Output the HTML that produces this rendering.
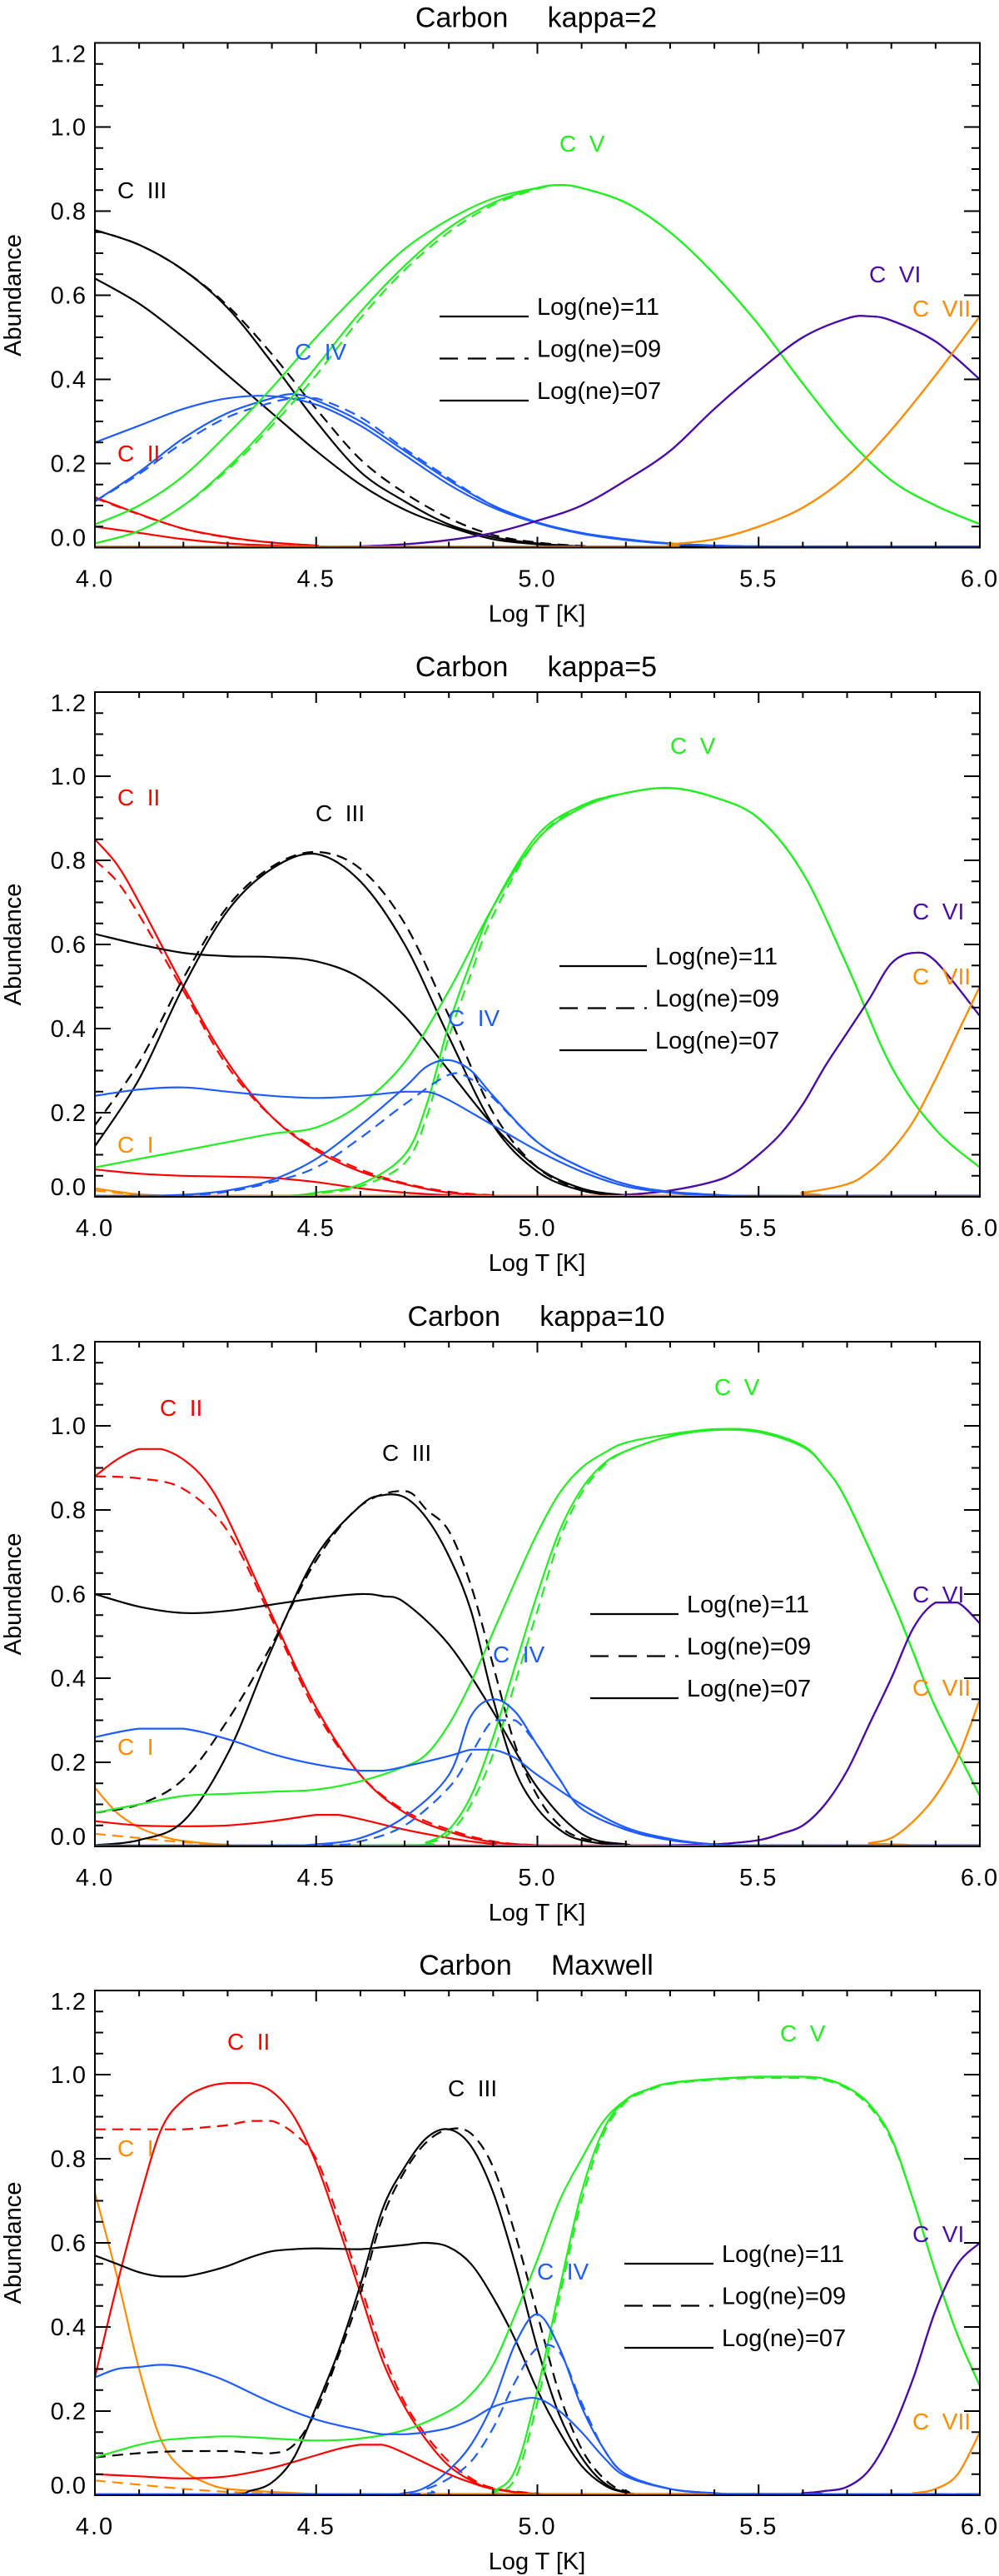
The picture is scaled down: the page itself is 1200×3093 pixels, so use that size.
<!DOCTYPE html>
<html><head><meta charset="utf-8"><style>
html,body{margin:0;padding:0;background:#fff;}
svg{display:block;}
text{font-family:"Liberation Sans",sans-serif;}
</style></head><body>
<svg id="fig" width="1200" height="3093" viewBox="0 0 1200 3093" xmlns="http://www.w3.org/2000/svg"></svg>
<script>
// ===== DATA (log T, abundance) =====
const xTickLabels = ["4.0","4.5","5.0","5.5","6.0"];
const yTickLabels = ["0.0","0.2","0.4","0.6","0.8","1.0","1.2"];
const legendLabels = ["Log(ne)=11","Log(ne)=09","Log(ne)=07"];
const panelTitles = ["Carbon     kappa=2","Carbon     kappa=5","Carbon     kappa=10","Carbon     Maxwell"];

// kappa=2
const k2_c2_11=[[4.0,.12],[4.1,.08],[4.2,.045],[4.3,.025],[4.4,.012],[4.5,.005],[4.6,0],[6.0,0]];
const k2_c2_09=[[4.0,.118],[4.1,.079],[4.2,.045],[4.3,.024],[4.4,.012],[4.5,.005],[4.6,0],[6.0,0]];
const k2_c2_07=[[4.0,.05],[4.1,.035],[4.2,.02],[4.3,.01],[4.4,.005],[4.5,.002],[4.6,0],[6.0,0]];
const k2_c3_11=[[4.0,.755],[4.1,.72],[4.2,.66],[4.3,.57],[4.4,.44],[4.5,.30],[4.6,.18],[4.7,.11],[4.8,.055],[4.9,.025],[5.0,.01],[5.1,.003],[5.2,0],[6.0,0]];
const k2_c3_09=[[4.0,.755],[4.1,.72],[4.2,.66],[4.3,.575],[4.4,.46],[4.5,.33],[4.6,.21],[4.7,.13],[4.8,.07],[4.9,.03],[5.0,.012],[5.1,.004],[5.2,0],[6.0,0]];
const k2_c3_07=[[4.0,.64],[4.1,.58],[4.2,.50],[4.3,.41],[4.4,.32],[4.5,.23],[4.6,.15],[4.7,.09],[4.8,.05],[4.9,.02],[5.0,.008],[5.1,.002],[5.2,0],[6.0,0]];
const k2_c4_11=[[4.0,.11],[4.1,.18],[4.2,.26],[4.3,.32],[4.4,.355],[4.45,.365],[4.5,.35],[4.6,.30],[4.7,.23],[4.8,.16],[4.9,.10],[5.0,.06],[5.1,.035],[5.2,.02],[5.3,.01],[5.4,.005],[5.5,.003],[5.7,0],[6.0,0]];
const k2_c4_09=[[4.0,.11],[4.1,.175],[4.2,.25],[4.3,.31],[4.4,.345],[4.45,.355],[4.5,.355],[4.6,.31],[4.7,.235],[4.8,.165],[4.9,.10],[5.0,.06],[5.1,.035],[5.2,.02],[5.3,.01],[5.4,.005],[5.5,.003],[5.7,0],[6.0,0]];
const k2_c4_07=[[4.0,.25],[4.1,.29],[4.2,.33],[4.3,.355],[4.4,.36],[4.5,.34],[4.6,.29],[4.7,.22],[4.8,.15],[4.9,.095],[5.0,.058],[5.1,.033],[5.2,.018],[5.3,.009],[5.4,.004],[5.5,.002],[5.7,0],[6.0,0]];
const k2_c5_11=[[4.0,.01],[4.1,.04],[4.2,.10],[4.3,.19],[4.4,.30],[4.5,.43],[4.6,.56],[4.7,.67],[4.8,.76],[4.9,.82],[5.0,.855],[5.05,.862],[5.1,.855],[5.2,.82],[5.3,.75],[5.4,.65],[5.5,.53],[5.6,.39],[5.7,.26],[5.8,.16],[5.9,.10],[6.0,.056]];
const k2_c5_09=[[4.0,.01],[4.1,.04],[4.2,.10],[4.3,.185],[4.4,.29],[4.5,.41],[4.6,.545],[4.7,.66],[4.8,.75],[4.9,.815],[5.0,.853],[5.05,.862],[5.1,.855],[5.2,.82],[5.3,.75],[5.4,.65],[5.5,.53],[5.6,.39],[5.7,.26],[5.8,.16],[5.9,.10],[6.0,.056]];
const k2_c5_07=[[4.0,.055],[4.1,.10],[4.2,.17],[4.3,.27],[4.4,.38],[4.5,.50],[4.6,.61],[4.7,.71],[4.8,.78],[4.9,.83],[5.0,.855],[5.05,.862],[5.1,.855],[5.2,.82],[5.3,.75],[5.4,.65],[5.5,.53],[5.6,.39],[5.7,.26],[5.8,.16],[5.9,.10],[6.0,.056]];
const k2_c6=[[4.0,0],[4.5,0],[4.6,.003],[4.7,.008],[4.8,.018],[4.9,.035],[5.0,.064],[5.1,.10],[5.2,.16],[5.3,.23],[5.4,.33],[5.5,.42],[5.6,.50],[5.7,.545],[5.75,.55],[5.8,.54],[5.9,.49],[6.0,.40]];
const k2_c7=[[4.0,0],[5.2,0],[5.3,.008],[5.4,.02],[5.5,.05],[5.6,.095],[5.7,.17],[5.8,.28],[5.9,.41],[6.0,.55]];

// kappa=5
const k5_c1_11=[[4.0,.02],[4.1,.006],[4.2,.001],[4.3,0],[6.0,0]];
const k5_c1_09=[[4.0,.015],[4.1,.005],[4.2,0],[6.0,0]];
const k5_c2_11=[[4.0,.85],[4.05,.79],[4.1,.70],[4.2,.50],[4.3,.32],[4.4,.19],[4.5,.11],[4.6,.06],[4.7,.03],[4.8,.01],[4.9,.003],[5.0,0],[6.0,0]];
const k5_c2_09=[[4.0,.80],[4.05,.75],[4.1,.67],[4.2,.49],[4.3,.31],[4.4,.19],[4.5,.115],[4.6,.065],[4.7,.032],[4.8,.012],[4.9,.004],[5.0,0],[6.0,0]];
const k5_c2_07=[[4.0,.065],[4.1,.055],[4.2,.05],[4.3,.048],[4.4,.045],[4.5,.035],[4.6,.02],[4.7,.01],[4.8,.004],[4.9,0],[6.0,0]];
const k5_c3_11=[[4.0,.12],[4.1,.28],[4.2,.50],[4.3,.68],[4.4,.78],[4.5,.815],[4.6,.75],[4.7,.60],[4.8,.38],[4.9,.17],[5.0,.06],[5.1,.015],[5.2,.003],[5.3,0],[6.0,0]];
const k5_c3_09=[[4.0,.17],[4.1,.32],[4.2,.52],[4.3,.69],[4.4,.785],[4.5,.82],[4.6,.78],[4.7,.65],[4.8,.43],[4.9,.20],[5.0,.07],[5.1,.018],[5.2,.004],[5.3,0],[6.0,0]];
const k5_c3_07=[[4.0,.625],[4.1,.60],[4.2,.58],[4.3,.572],[4.4,.57],[4.5,.56],[4.6,.52],[4.7,.43],[4.8,.30],[4.9,.17],[5.0,.07],[5.1,.02],[5.2,.004],[5.3,0],[6.0,0]];
const k5_c4_11=[[4.0,0],[4.1,.002],[4.2,.005],[4.3,.015],[4.4,.04],[4.5,.09],[4.6,.17],[4.7,.26],[4.75,.31],[4.8,.325],[4.85,.30],[4.9,.24],[5.0,.13],[5.1,.07],[5.2,.03],[5.3,.012],[5.4,.005],[5.5,.001],[6.0,0]];
const k5_c4_09=[[4.0,0],[4.2,.004],[4.3,.012],[4.4,.035],[4.5,.07],[4.6,.14],[4.7,.22],[4.8,.29],[4.85,.28],[4.9,.235],[5.0,.13],[5.1,.07],[5.2,.03],[5.3,.012],[5.4,.005],[5.5,.001],[6.0,0]];
const k5_c4_07=[[4.0,.24],[4.1,.255],[4.2,.26],[4.3,.25],[4.4,.24],[4.5,.235],[4.6,.24],[4.7,.25],[4.75,.25],[4.8,.23],[4.9,.17],[5.0,.11],[5.1,.06],[5.2,.025],[5.3,.01],[5.4,.004],[5.5,.001],[6.0,0]];
const k5_c5_11=[[4.0,0],[4.4,.002],[4.5,.01],[4.6,.03],[4.7,.10],[4.75,.22],[4.8,.41],[4.85,.56],[4.9,.69],[5.0,.86],[5.1,.93],[5.2,.96],[5.3,.972],[5.4,.95],[5.5,.90],[5.6,.77],[5.7,.55],[5.8,.31],[5.9,.16],[6.0,.07]];
const k5_c5_09=[[4.0,0],[4.4,.002],[4.5,.008],[4.6,.025],[4.7,.08],[4.75,.19],[4.8,.38],[4.85,.53],[4.9,.67],[5.0,.85],[5.1,.93],[5.2,.96],[5.3,.972],[5.4,.95],[5.5,.90],[5.6,.77],[5.7,.55],[5.8,.31],[5.9,.16],[6.0,.07]];
const k5_c5_07=[[4.0,.07],[4.1,.09],[4.2,.11],[4.3,.13],[4.4,.15],[4.5,.165],[4.6,.22],[4.7,.32],[4.8,.49],[4.9,.69],[5.0,.85],[5.1,.925],[5.2,.96],[5.3,.972],[5.4,.95],[5.5,.90],[5.6,.77],[5.7,.55],[5.8,.31],[5.9,.16],[6.0,.07]];
const k5_c6=[[4.0,0],[5.1,0],[5.2,.005],[5.3,.015],[5.4,.037],[5.45,.06],[5.5,.10],[5.55,.15],[5.6,.22],[5.65,.31],[5.7,.39],[5.75,.47],[5.8,.555],[5.85,.58],[5.9,.56],[6.0,.43]];
const k5_c7=[[4.0,0],[5.5,0],[5.6,.01],[5.7,.03],[5.75,.06],[5.8,.11],[5.85,.18],[5.9,.28],[5.95,.39],[6.0,.50]];

// kappa=10
const k10_c1_11=[[4.0,.14],[4.05,.08],[4.1,.045],[4.15,.025],[4.2,.013],[4.3,.004],[4.4,0],[6.0,0]];
const k10_c1_09=[[4.0,.03],[4.1,.02],[4.2,.01],[4.3,.004],[4.4,0],[6.0,0]];
const k10_c2_11=[[4.0,.88],[4.05,.92],[4.1,.945],[4.15,.945],[4.2,.92],[4.25,.87],[4.3,.78],[4.4,.55],[4.5,.33],[4.6,.17],[4.7,.08],[4.8,.035],[4.9,.01],[5.0,.003],[5.1,0],[6.0,0]];
const k10_c2_09=[[4.0,.88],[4.1,.875],[4.2,.85],[4.3,.75],[4.4,.54],[4.5,.32],[4.6,.17],[4.7,.085],[4.8,.04],[4.9,.012],[5.0,.003],[5.1,0],[6.0,0]];
const k10_c2_07=[[4.0,.06],[4.1,.05],[4.2,.048],[4.3,.05],[4.4,.06],[4.5,.075],[4.55,.075],[4.6,.065],[4.7,.04],[4.8,.02],[4.9,.006],[5.0,0],[6.0,0]];
const k10_c3_11=[[4.0,.003],[4.1,.015],[4.2,.06],[4.3,.22],[4.4,.47],[4.5,.69],[4.6,.81],[4.65,.835],[4.7,.83],[4.75,.78],[4.8,.69],[4.85,.56],[4.9,.35],[4.95,.18],[5.0,.09],[5.05,.04],[5.1,.015],[5.2,.002],[5.3,0],[6.0,0]];
const k10_c3_09=[[4.0,.08],[4.1,.10],[4.2,.16],[4.3,.30],[4.4,.48],[4.5,.68],[4.6,.81],[4.7,.845],[4.75,.80],[4.8,.75],[4.85,.62],[4.9,.43],[4.95,.24],[5.0,.12],[5.05,.05],[5.1,.02],[5.2,.003],[5.3,0],[6.0,0]];
const k10_c3_07=[[4.0,.60],[4.1,.57],[4.2,.555],[4.3,.56],[4.4,.575],[4.5,.59],[4.6,.60],[4.65,.595],[4.7,.58],[4.8,.48],[4.9,.32],[5.0,.14],[5.1,.03],[5.2,.005],[5.3,0],[6.0,0]];
const k10_c4_11=[[4.0,0],[4.4,.002],[4.5,.005],[4.6,.02],[4.7,.07],[4.8,.17],[4.85,.31],[4.9,.35],[4.95,.32],[5.0,.24],[5.05,.16],[5.1,.09],[5.2,.04],[5.3,.015],[5.4,.005],[5.5,.001],[6.0,0]];
const k10_c4_09=[[4.0,0],[4.5,.003],[4.6,.012],[4.7,.05],[4.8,.14],[4.85,.22],[4.9,.30],[4.95,.30],[5.0,.24],[5.05,.16],[5.1,.09],[5.2,.04],[5.3,.015],[5.4,.005],[5.5,.001],[6.0,0]];
const k10_c4_07=[[4.0,.26],[4.1,.28],[4.2,.28],[4.3,.255],[4.4,.22],[4.5,.195],[4.6,.18],[4.65,.18],[4.7,.19],[4.8,.215],[4.85,.23],[4.9,.23],[4.95,.21],[5.0,.17],[5.1,.10],[5.2,.045],[5.3,.018],[5.4,.005],[5.5,.001],[6.0,0]];
const k10_c5_11=[[4.0,0],[4.7,.003],[4.75,.01],[4.8,.04],[4.85,.12],[4.9,.26],[4.95,.43],[5.0,.60],[5.05,.75],[5.1,.85],[5.15,.91],[5.2,.94],[5.3,.975],[5.4,.99],[5.5,.985],[5.6,.95],[5.65,.90],[5.7,.82],[5.8,.59],[5.85,.46],[5.9,.33],[6.0,.12]];
const k10_c5_09=[[4.0,0],[4.7,.002],[4.75,.008],[4.8,.03],[4.85,.10],[4.9,.22],[4.95,.39],[5.0,.56],[5.05,.73],[5.1,.84],[5.15,.905],[5.2,.94],[5.3,.975],[5.4,.99],[5.5,.985],[5.6,.95],[5.65,.90],[5.7,.82],[5.8,.59],[5.85,.46],[5.9,.33],[6.0,.12]];
const k10_c5_07=[[4.0,.08],[4.1,.10],[4.2,.12],[4.3,.125],[4.4,.13],[4.5,.135],[4.6,.155],[4.7,.19],[4.75,.22],[4.8,.29],[4.85,.39],[4.9,.51],[4.95,.63],[5.0,.745],[5.05,.84],[5.1,.90],[5.15,.935],[5.2,.96],[5.3,.98],[5.4,.992],[5.5,.988],[5.6,.953],[5.65,.90],[5.7,.82],[5.8,.59],[5.85,.46],[5.9,.33],[6.0,.12]];
const k10_c6=[[4.0,0],[5.2,.001],[5.3,.003],[5.4,.005],[5.5,.015],[5.55,.03],[5.6,.05],[5.65,.10],[5.7,.18],[5.75,.29],[5.8,.40],[5.85,.52],[5.9,.58],[5.95,.58],[6.0,.53]];
const k10_c7=[[4.0,0],[5.7,.002],[5.75,.008],[5.8,.02],[5.85,.06],[5.9,.12],[5.95,.21],[6.0,.35]];

// Maxwell
const mx_c1_11=[[4.0,.72],[4.05,.52],[4.1,.30],[4.15,.13],[4.2,.06],[4.25,.03],[4.3,.015],[4.4,.008],[4.5,.003],[4.6,0],[6.0,0]];
const mx_c1_09=[[4.0,.035],[4.1,.025],[4.2,.015],[4.3,.008],[4.4,.004],[4.5,0],[6.0,0]];
const mx_c2_11=[[4.0,.28],[4.05,.50],[4.1,.70],[4.15,.87],[4.2,.94],[4.25,.97],[4.3,.98],[4.35,.98],[4.4,.96],[4.45,.90],[4.5,.79],[4.55,.64],[4.6,.48],[4.65,.32],[4.7,.21],[4.75,.13],[4.8,.07],[4.85,.035],[4.9,.015],[5.0,.003],[5.1,0],[6.0,0]];
const mx_c2_09=[[4.0,.87],[4.1,.87],[4.15,.87],[4.2,.87],[4.25,.875],[4.3,.88],[4.35,.89],[4.4,.89],[4.45,.86],[4.5,.80],[4.55,.66],[4.6,.50],[4.65,.34],[4.7,.22],[4.75,.14],[4.8,.08],[4.85,.04],[4.9,.017],[5.0,.004],[5.1,0],[6.0,0]];
const mx_c2_07=[[4.0,.05],[4.1,.045],[4.2,.04],[4.3,.045],[4.4,.065],[4.5,.095],[4.55,.11],[4.6,.12],[4.65,.12],[4.7,.10],[4.8,.05],[4.85,.03],[4.9,.015],[5.0,.003],[5.1,0],[6.0,0]];
const mx_c3_11=[[4.0,0],[4.3,.002],[4.35,.01],[4.4,.03],[4.45,.09],[4.5,.21],[4.55,.34],[4.6,.50],[4.65,.68],[4.7,.78],[4.75,.85],[4.8,.87],[4.85,.83],[4.9,.72],[4.95,.55],[5.0,.35],[5.05,.19],[5.1,.09],[5.15,.03],[5.2,.008],[5.3,0],[6.0,0]];
const mx_c3_09=[[4.0,.09],[4.1,.10],[4.2,.105],[4.3,.105],[4.4,.10],[4.45,.12],[4.5,.20],[4.55,.33],[4.6,.48],[4.65,.66],[4.7,.77],[4.75,.84],[4.8,.87],[4.85,.86],[4.9,.78],[4.95,.62],[5.0,.43],[5.05,.24],[5.1,.11],[5.15,.04],[5.2,.01],[5.3,0],[6.0,0]];
const mx_c3_07=[[4.0,.57],[4.05,.55],[4.1,.53],[4.15,.52],[4.2,.52],[4.25,.53],[4.3,.545],[4.35,.565],[4.4,.58],[4.45,.585],[4.5,.587],[4.6,.585],[4.65,.59],[4.7,.595],[4.75,.60],[4.8,.59],[4.85,.55],[4.9,.47],[4.95,.37],[5.0,.25],[5.05,.15],[5.1,.07],[5.15,.025],[5.2,.007],[5.3,0],[6.0,0]];
const mx_c4_11=[[4.0,0],[4.6,0],[4.7,.005],[4.75,.02],[4.8,.06],[4.85,.12],[4.9,.22],[4.95,.36],[5.0,.43],[5.05,.35],[5.1,.21],[5.15,.11],[5.2,.05],[5.3,.015],[5.4,.005],[5.5,.001],[6.0,0]];
const mx_c4_09=[[4.0,0],[4.7,.003],[4.75,.015],[4.8,.04],[4.85,.08],[4.9,.16],[4.95,.27],[5.0,.35],[5.05,.34],[5.1,.22],[5.15,.11],[5.2,.05],[5.3,.015],[5.4,.005],[5.5,.001],[6.0,0]];
const mx_c4_07=[[4.0,.28],[4.05,.30],[4.1,.305],[4.15,.31],[4.2,.305],[4.25,.29],[4.3,.27],[4.4,.22],[4.5,.18],[4.6,.155],[4.65,.145],[4.7,.145],[4.75,.15],[4.8,.16],[4.85,.18],[4.9,.21],[4.95,.225],[5.0,.23],[5.05,.20],[5.1,.15],[5.15,.09],[5.2,.045],[5.3,.015],[5.4,.005],[5.5,.001],[6.0,0]];
const mx_c5_11=[[4.0,0],[4.85,0],[4.9,.01],[4.95,.06],[5.0,.25],[5.05,.49],[5.1,.72],[5.15,.87],[5.2,.94],[5.25,.965],[5.3,.98],[5.4,.99],[5.5,.995],[5.6,.995],[5.65,.99],[5.7,.97],[5.75,.93],[5.8,.85],[5.85,.70],[5.9,.53],[5.95,.38],[6.0,.26]];
const mx_c5_09=[[4.0,0],[4.85,0],[4.9,.008],[4.95,.04],[5.0,.22],[5.05,.47],[5.1,.70],[5.15,.86],[5.2,.935],[5.25,.962],[5.3,.978],[5.4,.988],[5.5,.992],[5.6,.992],[5.65,.987],[5.7,.967],[5.75,.925],[5.8,.845],[5.85,.70],[5.9,.53],[5.95,.38],[6.0,.26]];
const mx_c5_07=[[4.0,.09],[4.1,.12],[4.15,.13],[4.2,.135],[4.3,.14],[4.4,.135],[4.5,.13],[4.6,.135],[4.7,.155],[4.8,.20],[4.85,.24],[4.9,.31],[4.95,.43],[5.0,.56],[5.05,.70],[5.1,.80],[5.15,.89],[5.2,.94],[5.25,.965],[5.3,.98],[5.4,.99],[5.5,.995],[5.6,.995],[5.65,.99],[5.7,.97],[5.75,.93],[5.8,.85],[5.85,.70],[5.9,.53],[5.95,.38],[6.0,.26]];
const mx_c6=[[4.0,0],[5.5,.003],[5.6,.005],[5.65,.01],[5.7,.02],[5.75,.06],[5.8,.15],[5.85,.28],[5.9,.44],[5.95,.55],[6.0,.60]];
const mx_c7=[[4.0,0],[5.8,.001],[5.85,.005],[5.9,.015],[5.95,.05],[6.0,.15]];
const zeroLine=[[4.0,0],[6.0,0]];

// ===== STYLE / LAYOUT =====
const COL={c1:"#ff8c00",c2:"#ff0000",c3:"#000000",c4:"#1e5cff",c5:"#22ee22",c6:"#4a0ca8",c7:"#ff8c00"};
const PL=114, PR=1177, PH=606;
const panelTops=[51.5,831,1611,2390];

const panels=[
 {name:"kappa-2",series:[
  ["c1",zeroLine,0],["c1",zeroLine,1],
  ["c2",k2_c2_11,0],["c2",k2_c2_09,1],["c2",k2_c2_07,2],
  ["c3",k2_c3_11,0],["c3",k2_c3_09,1],["c3",k2_c3_07,2],
  ["c4",k2_c4_11,0],["c4",k2_c4_09,1],["c4",k2_c4_07,2],
  ["c5",k2_c5_11,0],["c5",k2_c5_09,1],["c5",k2_c5_07,2],
  ["c6",k2_c6,0],["c6",k2_c6,2],["c7",k2_c7,0],["c7",k2_c7,2]],
  labels:[["C  III","c3",141,228],["C  IV","c4",354,422],["C  II","c2",141,544],["C  V","c5",672,172],["C  VI","c6",1044,329],["C  VII","c7",1096,370]],
  legend:[528,635,380]},
 {name:"kappa-5",series:[
  ["c1",k5_c1_11,0],["c1",k5_c1_09,1],["c1",zeroLine,2],
  ["c2",k5_c2_11,0],["c2",k5_c2_09,1],["c2",k5_c2_07,2],
  ["c3",k5_c3_11,0],["c3",k5_c3_09,1],["c3",k5_c3_07,2],
  ["c5",k5_c5_11,0],["c5",k5_c5_09,1],["c5",k5_c5_07,2],
  ["c6",k5_c6,0],["c6",k5_c6,2],["c7",k5_c7,0],["c7",k5_c7,2],
  ["c4",k5_c4_11,0],["c4",k5_c4_09,1],["c4",k5_c4_07,2]],
  labels:[["C  II","c2",141,957],["C  III","c3",379,976],["C  IV","c4",538,1222],["C  V","c5",805,895],["C  VI","c6",1096,1094],["C  VII","c7",1096,1172],["C  I","c1",141,1374]],
  legend:[672,777,1160]},
 {name:"kappa-10",series:[
  ["c1",k10_c1_11,0],["c1",k10_c1_09,1],["c1",zeroLine,2],
  ["c2",k10_c2_11,0],["c2",k10_c2_09,1],["c2",k10_c2_07,2],
  ["c3",k10_c3_11,0],["c3",k10_c3_09,1],["c3",k10_c3_07,2],
  ["c5",k10_c5_11,0],["c5",k10_c5_09,1],["c5",k10_c5_07,2],
  ["c6",k10_c6,0],["c6",k10_c6,2],["c7",k10_c7,0],["c7",k10_c7,2],
  ["c4",k10_c4_11,0],["c4",k10_c4_09,1],["c4",k10_c4_07,2]],
  labels:[["C  II","c2",192,1690],["C  III","c3",459,1744],["C  IV","c4",592,1986],["C  V","c5",858,1665],["C  VI","c6",1096,1914],["C  VII","c7",1096,2026],["C  I","c1",141,2097]],
  legend:[709,815,1938]},
 {name:"maxwell",series:[
  ["c1",mx_c1_11,0],["c1",mx_c1_09,1],["c1",zeroLine,2],
  ["c2",mx_c2_11,0],["c2",mx_c2_09,1],["c2",mx_c2_07,2],
  ["c3",mx_c3_11,0],["c3",mx_c3_09,1],["c3",mx_c3_07,2],
  ["c5",mx_c5_11,0],["c5",mx_c5_09,1],["c5",mx_c5_07,2],
  ["c6",mx_c6,0],["c6",mx_c6,2],["c7",mx_c7,0],["c7",mx_c7,2],
  ["c4",mx_c4_11,0],["c4",mx_c4_09,1],["c4",mx_c4_07,2]],
  labels:[["C  II","c2",273,2451],["C  III","c3",538,2507],["C  V","c5",937,2441],["C  I","c1",141,2579],["C  IV","c4",645,2727],["C  VI","c6",1096,2682],["C  VII","c7",1096,2907]],
  legend:[750,857,2718]}
];

const NS="http://www.w3.org/2000/svg";
const svg=document.getElementById("fig");
function mk(tag,attrs,parent,txt){const e=document.createElementNS(NS,tag);for(const k in attrs)e.setAttribute(k,attrs[k]);if(txt!==undefined)e.textContent=txt;(parent||svg).appendChild(e);return e;}

function smoothPath(pts){
  if(pts.length<2)return "";
  let d="M"+pts[0][0].toFixed(1)+","+pts[0][1].toFixed(1);
  for(let i=0;i<pts.length-1;i++){
    const p0=pts[i-1]||pts[i],p1=pts[i],p2=pts[i+1],p3=pts[i+2]||p2;
    let c1y=p1[1]+(p2[1]-p0[1])/6, c2y=p2[1]-(p3[1]-p1[1])/6;
    const c1x=p1[0]+(p2[0]-p0[0])/6, c2x=p2[0]-(p3[0]-p1[0])/6;
    const lo=Math.max(p1[1],p2[1]), hi=Math.min(p1[1],p2[1]);
    // avoid overshoot below zero baseline
    if(p1[1]===p2[1]){c1y=p1[1];c2y=p2[1];}
    d+=" C"+c1x.toFixed(1)+","+c1y.toFixed(1)+" "+c2x.toFixed(1)+","+c2y.toFixed(1)+" "+p2[0].toFixed(1)+","+p2[1].toFixed(1);
  }
  return d;
}

panels.forEach((P,pi)=>{
  const top=panelTops[pi], bot=top+PH;
  const xS=t=>PL+(t-4)/2*(PR-PL);
  const yS=a=>bot-a/1.2*PH;
  const g=mk("g",{});
  
  

  const title=mk("text",{x:644,y:top-19,"text-anchor":"middle","font-size":"34","fill":"#000","xml:space":"preserve",style:"white-space:pre"},g,panelTitles[pi]);
  
  

  const clipId="clip"+pi;
  const cp=mk("clipPath",{id:clipId},g);
  mk("rect",{x:PL,y:top,width:PR-PL,height:PH+2},cp);

  const lines=mk("g",{"clip-path":"url(#"+clipId+")",fill:"none","stroke-width":"2.2","stroke-linejoin":"round"},g);
  
  
  P.series.forEach(s=>{
    const pts=s[1].map(p=>[xS(p[0]),Math.min(yS(p[1]),bot-1)]);
    const path=mk("path",{d:smoothPath(pts),stroke:COL[s[0]]},lines);
    if(s[2]===1)path.setAttribute("stroke-dasharray","13,8");
    
    
  });

  // frame
  const fr=mk("rect",{x:PL,y:top,width:PR-PL,height:PH,fill:"none",stroke:"#000","stroke-width":"2"},g);
  
  

  // ticks
  const tk=mk("g",{stroke:"#000","stroke-width":"2"},g);
  
  
  for(let i=0;i<=24;i++){
    const v=i*0.05, y=yS(v), L=(i%4===0)?19:10;
    mk("line",{x1:PL,y1:y,x2:PL+L,y2:y},tk);
    mk("line",{x1:PR,y1:y,x2:PR-L,y2:y},tk);
  }
  for(let i=0;i<=20;i++){
    const x=xS(4+i*0.1), L=(i%5===0)?13:7;
    mk("line",{x1:x,y1:bot,x2:x,y2:bot-L},tk);
    mk("line",{x1:x,y1:top,x2:x,y2:top+L},tk);
  }
  yTickLabels.forEach((lab,i)=>{
    let y=yS(parseFloat(lab))+10;
    if(i===0)y-=12; if(i===yTickLabels.length-1)y+=13;
    const t=mk("text",{x:104,y:y,"text-anchor":"end","font-size":"29","fill":"#000","letter-spacing":"1"},g,lab);
    
    
  });
  xTickLabels.forEach(lab=>{
    const t=mk("text",{x:xS(parseFloat(lab)),y:bot+47,"text-anchor":"middle","font-size":"29","fill":"#000","letter-spacing":"2"},g,lab);
    
    
  });
  const xt=mk("text",{x:645,y:bot+89,"text-anchor":"middle","font-size":"29","fill":"#000"},g,"Log T [K]");
  
  
  const ym=(top+bot)/2;
  const yt=mk("text",{x:0,y:0,"text-anchor":"middle","font-size":"29","fill":"#000",transform:"translate(25,"+ym+") rotate(-90)"},g,"Abundance");
  
  

  // ion labels
  P.labels.forEach(L=>{
    const t=mk("text",{x:L[2],y:L[3]+10,"font-size":"28","fill":COL[L[1]],"xml:space":"preserve",style:"white-space:pre"},g,L[0]);
    
    
  });

  // legend
  const lg=mk("g",{},g);
  
  
  legendLabels.forEach((lab,i)=>{
    const y=P.legend[2]+i*50.5;
    const ln=mk("line",{x1:P.legend[0],y1:y,x2:P.legend[1],y2:y,stroke:"#000","stroke-width":"2.2"},lg);
    if(i===1)ln.setAttribute("stroke-dasharray","22,12");
    
    
    const t=mk("text",{x:P.legend[1]+10,y:y-2,"font-size":"29","fill":"#000"},lg,lab);
    
    
  });
});
</script>
</body></html>
